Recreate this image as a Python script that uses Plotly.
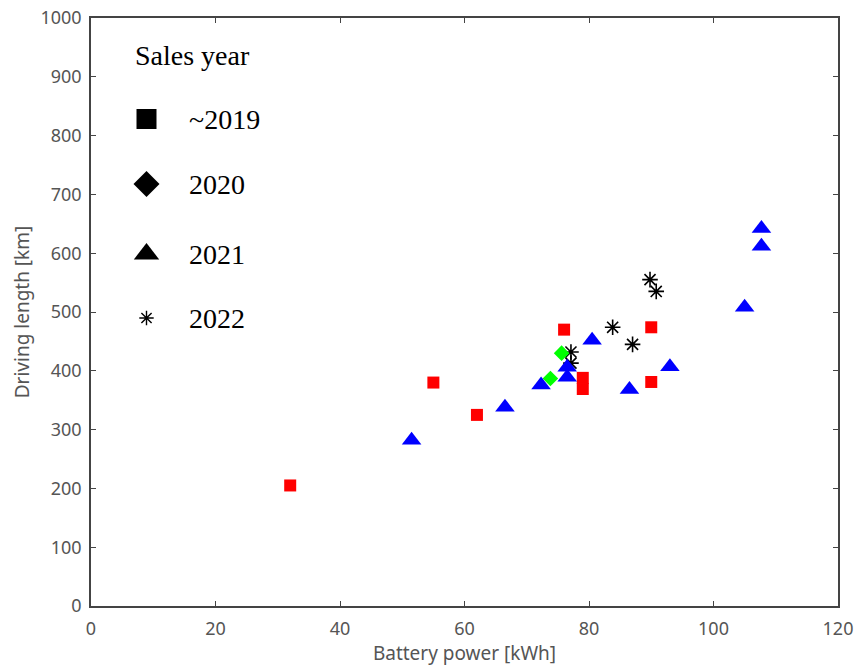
import plotly.graph_objects as go

# Battery capacity [kWh] vs. driving range [km], grouped by sales year
x_2019 = [32, 55, 62, 76, 79, 79, 90, 90]
y_2019 = [205, 380, 325, 470, 388, 369, 474, 381]

x_2020 = [75.6, 73.8]
y_2020 = [430, 387]

x_2021 = [51.5, 66.5, 72.3, 76.5, 76.5, 80.5, 86.5, 93, 105, 107.7, 107.7]
y_2021 = [282, 338, 376, 406, 389, 452, 368, 407, 508, 642, 612]

x_2022 = [77.1, 77.1, 83.8, 87, 89.8, 90.8]
y_2022 = [432, 413, 474, 445, 555, 535]

legend_title = "Sales year"
legend_labels = ["~2019", "2020", "2021", "2022"]

x_ticks = [0, 20, 40, 60, 80, 100, 120]
y_ticks = [0, 100, 200, 300, 400, 500, 600, 700, 800, 900, 1000]

W, H = 855, 668
M_L, M_R, M_T, M_B = 91, 17, 18, 62
PLOT_W, PLOT_H = W - M_L - M_R, H - M_T - M_B


def fx(px):
    """Horizontal pixel -> fraction of plot area."""
    return (px - M_L) / PLOT_W


def fy(py):
    """Vertical pixel -> fraction of plot area (from bottom)."""
    return (H - M_B - py) / PLOT_H


fig = go.Figure()

# 2022 sits underneath the other years
fig.add_trace(go.Scatter(
    x=x_2022, y=y_2022, mode="markers", showlegend=False,
    marker=dict(symbol="asterisk-open", size=13, color="black",
                line=dict(width=1.6, color="black")),
))
series = [
    (x_2019, y_2019, "square", 12, "#ff0000"),
    (x_2020, y_2020, "diamond", 12, "#00ff00"),
    (x_2021, y_2021, "triangle-up", 17, "#0000ff"),
]
for xs, ys, sym, sz, col in series:
    fig.add_trace(go.Scatter(
        x=xs, y=ys, mode="markers", showlegend=False,
        marker=dict(symbol=sym, size=sz, color=col, line=dict(width=0)),
    ))

# Key drawn inside the plot area on an overlay axis spanning [0, 1]
key_x = fx(146.5)
key_rows = [fy(119), fy(184), fy(254), fy(318)]
key_styles = [
    ("square", 20, 0),
    ("diamond", 20, 0),
    ("triangle-up", 22, 0),
    ("asterisk-open", 12, 1.4),
]
for row_y, (sym, sz, lw) in zip(key_rows, key_styles):
    fig.add_trace(go.Scatter(
        x=[key_x], y=[row_y], xaxis="x2", yaxis="y2", mode="markers",
        showlegend=False, hoverinfo="skip",
        marker=dict(symbol=sym, size=sz, color="black",
                    line=dict(width=lw, color="black")),
    ))

serif = "Liberation Serif, Times New Roman, serif"
annotations = [dict(
    text=legend_title, xref="paper", yref="paper", x=fx(133), y=fy(55),
    xanchor="left", yanchor="middle", showarrow=False,
    font=dict(family=serif, size=28, color="black"),
)]
for label, row_y in zip(legend_labels, key_rows):
    annotations.append(dict(
        text=label, xref="paper", yref="paper", x=fx(187), y=row_y,
        xanchor="left", yanchor="middle", showarrow=False,
        font=dict(family=serif, size=28, color="black"),
    ))

tick_font = dict(family="Noto Sans, Arial, sans-serif", size=18, color="#555555")
title_font = dict(family="Noto Sans, Arial, sans-serif", size=19, color="#555555")

axis_common = dict(
    ticks="inside", ticklen=5, tickwidth=1.2,
    showline=True, linecolor="#444444", linewidth=1.5, mirror="ticks",
    tickcolor="#444444", showgrid=False, zeroline=False,
    tickfont=tick_font, automargin=False,
)

fig.update_layout(
    width=W, height=H,
    margin=dict(l=M_L, r=M_R, t=M_T, b=M_B),
    plot_bgcolor="white", paper_bgcolor="white",
    showlegend=False,
    annotations=annotations,
    xaxis=dict(
        range=[0, 120], tickvals=x_ticks, ticklabelstandoff=6,
        title=dict(text="Battery power [kWh]", font=title_font, standoff=1),
        **axis_common,
    ),
    yaxis=dict(
        range=[0, 1000], tickvals=y_ticks, ticklabelstandoff=4,
        title=dict(text="Driving length [km]", font=title_font, standoff=6),
        **axis_common,
    ),
    xaxis2=dict(overlaying="x", range=[0, 1], visible=False, fixedrange=True),
    yaxis2=dict(overlaying="y", range=[0, 1], visible=False, fixedrange=True),
)

fig.write_html("out.html")
